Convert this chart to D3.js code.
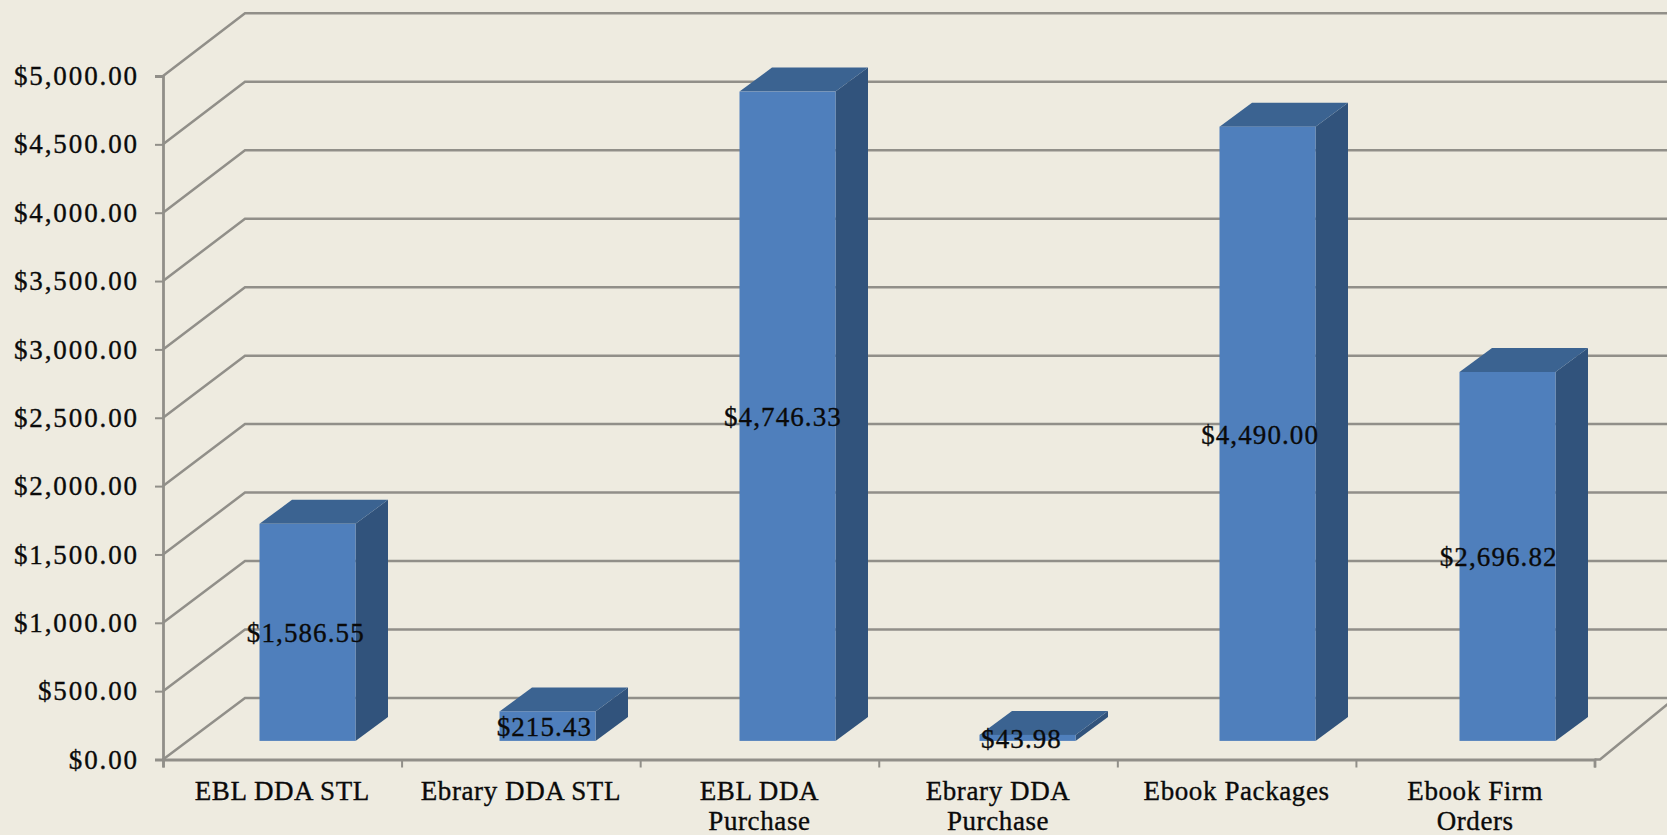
<!DOCTYPE html>
<html>
<head>
<meta charset="utf-8">
<script src="https://d3js.org/d3.v7.min.js"></script>
<style>
html, body { margin: 0; padding: 0; background: #eeebe0; overflow: hidden; }
svg { display: block; }
text { font-family: "Liberation Serif", serif; fill: #0a0a0a; stroke: #0a0a0a; stroke-width: 0.35px; }
</style>
</head>
<body>
<div id="chart"></div>
<script>
const categories = ['EBL DDA STL', 'Ebrary DDA STL', 'EBL DDA Purchase', 'Ebrary DDA Purchase', 'Ebook Packages', 'Ebook Firm Orders'];
const categoryLines = [['EBL DDA STL'], ['Ebrary DDA STL'], ['EBL DDA', 'Purchase'], ['Ebrary DDA', 'Purchase'], ['Ebook Packages'], ['Ebook Firm', 'Orders']];
const spend = [1586.55, 215.43, 4746.33, 43.98, 4490.00, 2696.82];
const yTicks = [0, 500, 1000, 1500, 2000, 2500, 3000, 3500, 4000, 4500, 5000];

const W = 1667, H = 835;
const left = 163, right = 1594.5, top5k = 76, bottom0 = 759.5;
// 3d offsets: back wall, bar depth, where the bars sit on the floor
const wallDx = 82, barDx = 32.5, barDy = -24, gapDx = 24.5;
const floorGap = 5.5, floorDx = 75;

const gridColor = '#918f89';
const fmt = d3.format('$,.2f');

const svg = d3.select('#chart').append('svg').attr('width', W).attr('height', H);

// bars step a little wider than the axis ticks in the original
const x = d3.scaleBand().domain(categories).range([left, left + 1440]).paddingInner(0.6).paddingOuter(0.3);
const xEdge = d3.scaleLinear().domain([0, categories.length]).range([left, right]);
const y = d3.scaleLinear().domain([0, 5000]).range([bottom0, top5k]);
// perspective: back wall and bar plane have their own vertical scales
const yBack = d3.scaleLinear().domain([0, 5000]).range([698, 13.3]);
const yBar = d3.scaleLinear().domain([0, 5000]).range([740.9, 56.9]);

// walls
const grid = svg.append('g');
grid.selectAll('path').data(yTicks).join('path')
    .attr('d', d => `M${left},${y(d)}L${left + wallDx},${yBack(d)}L${right + wallDx},${yBack(d)}`)
    .attr('fill', 'none').attr('stroke', gridColor).attr('stroke-width', 2.5);
grid.append('path')
    .attr('d', `M${right},${bottom0}L${right + floorGap},${bottom0}L${right + floorGap + floorDx},${yBack(0)}`)
    .attr('fill', 'none').attr('stroke', gridColor).attr('stroke-width', 2.5);

// axes
const yAxis = svg.append('g').attr('transform', `translate(${left},0)`)
    .call(d3.axisLeft(y).tickValues(yTicks).tickSize(8).tickPadding(16).tickFormat(fmt));
const xAxis = svg.append('g').attr('transform', `translate(0,${bottom0})`)
    .call(d3.axisBottom(xEdge).ticks(categories.length).tickSize(8).tickFormat(''));
[yAxis, xAxis].forEach(a => {
    a.selectAll('.domain').attr('stroke', gridColor).attr('stroke-width', 2.8);
    a.selectAll('.tick line').attr('stroke', gridColor).attr('stroke-width', 2);
});
yAxis.selectAll('text').attr('font-size', 27).style('font-family', '"Liberation Serif", serif')
    .style('letter-spacing', '1.9px').attr('fill', '#0a0a0a');

// bars
const bars = svg.append('g').selectAll('g').data(categories).join('g');
function corners(c, i) {
    return { x0: x(c) + gapDx, x1: x(c) + x.bandwidth() + gapDx, y0: yBar(0), y1: yBar(spend[i]) };
}
bars.append('path').attr('fill', '#31537c').attr('d', (c, i) => {
    const b = corners(c, i);
    return `M${b.x1},${b.y0}L${b.x1 + barDx},${b.y0 + barDy}L${b.x1 + barDx},${b.y1 + barDy}L${b.x1},${b.y1}Z`;
});
bars.append('path').attr('fill', '#3b6391').attr('d', (c, i) => {
    const b = corners(c, i);
    return `M${b.x0},${b.y1}L${b.x0 + barDx},${b.y1 + barDy}L${b.x1 + barDx},${b.y1 + barDy}L${b.x1},${b.y1}Z`;
});
bars.append('rect').attr('fill', '#4f7fbc')
    .attr('x', (c, i) => corners(c, i).x0).attr('y', (c, i) => corners(c, i).y1)
    .attr('width', x.bandwidth()).attr('height', (c, i) => corners(c, i).y0 - corners(c, i).y1);

// value labels on top of everything, these follow the tick step not the bars
svg.append('g').selectAll('text').data(categories).join('text')
    .attr('text-anchor', 'middle').attr('dominant-baseline', 'central').attr('font-size', 27)
    .style('letter-spacing', '1.1px')
    .attr('x', (c, i) => xEdge(i + 0.5) + gapDx - 1)
    .attr('y', (c, i) => (corners(c, i).y0 + corners(c, i).y1) / 2 + 1)
    .text((c, i) => fmt(spend[i]));

// category labels
const catLabels = svg.append('g').selectAll('text').data(categories).join('text')
    .attr('text-anchor', 'middle').attr('font-size', 27).style('letter-spacing', '0.6px');
catLabels.selectAll('tspan').data((c, i) => categoryLines[i].map(t => ({ t, i }))).join('tspan')
    .attr('x', d => xEdge(d.i + 0.5))
    .attr('y', (d, j) => 800 + j * 30)
    .text(d => d.t);
</script>
</body>
</html>
